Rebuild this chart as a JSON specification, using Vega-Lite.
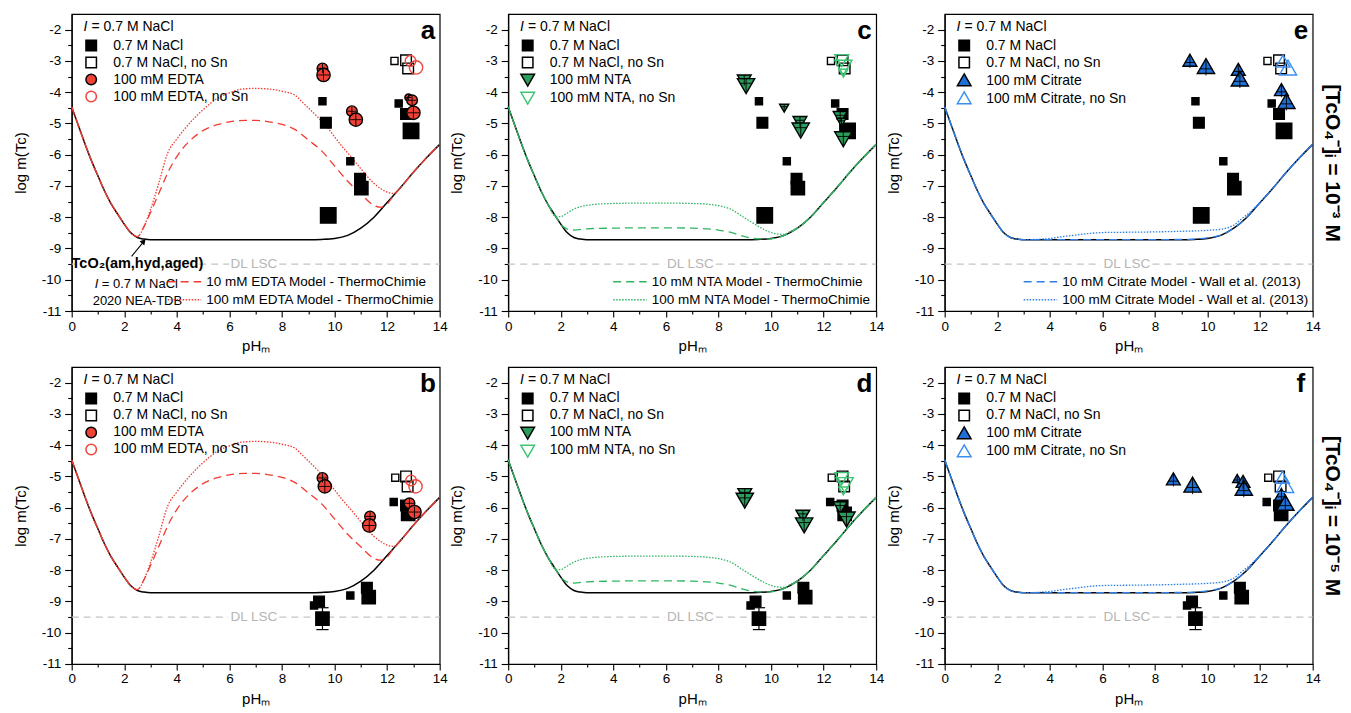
{
"$schema":"https://vega.github.io/schema/vega-lite/v6.json",
"padding":{"left":11.7,"top":13,"right":2,"bottom":4},
"data":{"values":[{"dummy":1}]},
"datasets":{
"pts":[
{"tc":"3","lig":"NaCl","s":"0.7 M NaCl","pH":9.54,"logm":-4.29,"g":1},
{"tc":"3","lig":"NaCl","s":"0.7 M NaCl","pH":9.67,"logm":-4.98,"g":2},
{"tc":"3","lig":"NaCl","s":"0.7 M NaCl","pH":10.6,"logm":-6.21,"g":1},
{"tc":"3","lig":"NaCl","s":"0.7 M NaCl","pH":10.97,"logm":-6.77,"g":2},
{"tc":"3","lig":"NaCl","s":"0.7 M NaCl","pH":11.02,"logm":-7.07,"g":3},
{"tc":"3","lig":"NaCl","s":"0.7 M NaCl","pH":9.76,"logm":-7.94,"g":4},
{"tc":"3","lig":"NaCl","s":"0.7 M NaCl","pH":12.44,"logm":-4.36,"g":1},
{"tc":"3","lig":"NaCl","s":"0.7 M NaCl","pH":12.72,"logm":-4.7,"g":2},
{"tc":"3","lig":"NaCl","s":"0.7 M NaCl","pH":12.91,"logm":-5.24,"g":4},
{"tc":"3","lig":"NaCl","s":"0.7 M NaCl, no Sn","pH":12.28,"logm":-3.0,"g":1},
{"tc":"3","lig":"NaCl","s":"0.7 M NaCl, no Sn","pH":12.72,"logm":-2.98,"g":2},
{"tc":"3","lig":"NaCl","s":"0.7 M NaCl, no Sn","pH":12.8,"logm":-3.24,"g":2},
{"tc":"5","lig":"NaCl","s":"0.7 M NaCl","pH":12.25,"logm":-5.82,"g":1},
{"tc":"5","lig":"NaCl","s":"0.7 M NaCl","pH":12.72,"logm":-5.93,"g":2},
{"tc":"5","lig":"NaCl","s":"0.7 M NaCl","pH":12.8,"logm":-6.2,"g":3},
{"tc":"5","lig":"NaCl","s":"0.7 M NaCl","pH":10.6,"logm":-8.81,"g":1},
{"tc":"5","lig":"NaCl","s":"0.7 M NaCl","pH":11.23,"logm":-8.56,"g":2},
{"tc":"5","lig":"NaCl","s":"0.7 M NaCl","pH":11.3,"logm":-8.86,"g":3},
{"tc":"5","lig":"NaCl","s":"0.7 M NaCl","pH":9.22,"logm":-9.13,"g":1},
{"tc":"5","lig":"NaCl","s":"0.7 M NaCl","pH":9.41,"logm":-9.0,"g":2},
{"tc":"5","lig":"NaCl","s":"0.7 M NaCl","pH":9.54,"logm":-9.55,"g":3},
{"tc":"5","lig":"NaCl","s":"0.7 M NaCl, no Sn","pH":12.31,"logm":-5.04,"g":1},
{"tc":"5","lig":"NaCl","s":"0.7 M NaCl, no Sn","pH":12.72,"logm":-5.0,"g":2},
{"tc":"5","lig":"NaCl","s":"0.7 M NaCl, no Sn","pH":12.78,"logm":-5.32,"g":2},
{"tc":"3","lig":"EDTA","s":"100 mM EDTA","pH":9.54,"logm":-3.24,"g":2},
{"tc":"3","lig":"EDTA","s":"100 mM EDTA","pH":9.58,"logm":-3.45,"g":3},
{"tc":"3","lig":"EDTA","s":"100 mM EDTA","pH":10.66,"logm":-4.61,"g":2},
{"tc":"3","lig":"EDTA","s":"100 mM EDTA","pH":10.81,"logm":-4.88,"g":3},
{"tc":"3","lig":"EDTA","s":"100 mM EDTA","pH":12.81,"logm":-4.17,"g":1},
{"tc":"3","lig":"EDTA","s":"100 mM EDTA","pH":12.95,"logm":-4.26,"g":2},
{"tc":"3","lig":"EDTA","s":"100 mM EDTA","pH":13.0,"logm":-4.66,"g":3},
{"tc":"3","lig":"EDTA","s":"100 mM EDTA, no Sn","pH":12.89,"logm":-3.0,"g":2},
{"tc":"3","lig":"EDTA","s":"100 mM EDTA, no Sn","pH":13.1,"logm":-3.21,"g":3},
{"tc":"5","lig":"EDTA","s":"100 mM EDTA","pH":9.54,"logm":-5.05,"g":2},
{"tc":"5","lig":"EDTA","s":"100 mM EDTA","pH":9.63,"logm":-5.32,"g":3},
{"tc":"5","lig":"EDTA","s":"100 mM EDTA","pH":11.35,"logm":-6.28,"g":2},
{"tc":"5","lig":"EDTA","s":"100 mM EDTA","pH":11.32,"logm":-6.57,"g":3},
{"tc":"5","lig":"EDTA","s":"100 mM EDTA","pH":12.85,"logm":-5.86,"g":2},
{"tc":"5","lig":"EDTA","s":"100 mM EDTA","pH":13.04,"logm":-6.14,"g":3},
{"tc":"5","lig":"EDTA","s":"100 mM EDTA, no Sn","pH":12.91,"logm":-5.13,"g":2},
{"tc":"5","lig":"EDTA","s":"100 mM EDTA, no Sn","pH":13.08,"logm":-5.32,"g":3},
{"tc":"3","lig":"NTA","s":"100 mM NTA","pH":8.98,"logm":-3.62,"g":2},
{"tc":"3","lig":"NTA","s":"100 mM NTA","pH":9.05,"logm":-3.78,"g":3},
{"tc":"3","lig":"NTA","s":"100 mM NTA","pH":10.5,"logm":-4.5,"g":1},
{"tc":"3","lig":"NTA","s":"100 mM NTA","pH":11.1,"logm":-4.95,"g":2},
{"tc":"3","lig":"NTA","s":"100 mM NTA","pH":11.13,"logm":-5.2,"g":3},
{"tc":"3","lig":"NTA","s":"100 mM NTA","pH":12.63,"logm":-4.79,"g":2},
{"tc":"3","lig":"NTA","s":"100 mM NTA","pH":12.68,"logm":-4.95,"g":1},
{"tc":"3","lig":"NTA","s":"100 mM NTA","pH":12.75,"logm":-5.48,"g":3},
{"tc":"3","lig":"NTA","s":"100 mM NTA, no Sn","pH":12.69,"logm":-2.97,"g":2},
{"tc":"3","lig":"NTA","s":"100 mM NTA, no Sn","pH":12.75,"logm":-3.19,"g":3},
{"tc":"3","lig":"NTA","s":"100 mM NTA, no Sn","pH":12.75,"logm":-3.38,"g":1},
{"tc":"5","lig":"NTA","s":"100 mM NTA","pH":9.0,"logm":-5.56,"g":2},
{"tc":"5","lig":"NTA","s":"100 mM NTA","pH":9.0,"logm":-5.75,"g":3},
{"tc":"5","lig":"NTA","s":"100 mM NTA","pH":11.21,"logm":-6.25,"g":2},
{"tc":"5","lig":"NTA","s":"100 mM NTA","pH":11.26,"logm":-6.54,"g":3},
{"tc":"5","lig":"NTA","s":"100 mM NTA","pH":12.63,"logm":-5.98,"g":2},
{"tc":"5","lig":"NTA","s":"100 mM NTA","pH":12.87,"logm":-6.35,"g":3},
{"tc":"5","lig":"NTA","s":"100 mM NTA, no Sn","pH":12.69,"logm":-5.05,"g":2},
{"tc":"5","lig":"NTA","s":"100 mM NTA, no Sn","pH":12.8,"logm":-5.25,"g":3},
{"tc":"5","lig":"NTA","s":"100 mM NTA, no Sn","pH":12.75,"logm":-5.45,"g":1},
{"tc":"3","lig":"Cit","s":"100 mM Citrate","pH":9.33,"logm":-3.0,"g":2},
{"tc":"3","lig":"Cit","s":"100 mM Citrate","pH":9.94,"logm":-3.19,"g":3},
{"tc":"3","lig":"Cit","s":"100 mM Citrate","pH":11.17,"logm":-3.29,"g":2},
{"tc":"3","lig":"Cit","s":"100 mM Citrate","pH":11.23,"logm":-3.59,"g":3},
{"tc":"3","lig":"Cit","s":"100 mM Citrate","pH":12.81,"logm":-3.94,"g":2},
{"tc":"3","lig":"Cit","s":"100 mM Citrate","pH":13.0,"logm":-4.31,"g":3},
{"tc":"3","lig":"Cit","s":"100 mM Citrate, no Sn","pH":12.87,"logm":-3.03,"g":2},
{"tc":"3","lig":"Cit","s":"100 mM Citrate, no Sn","pH":13.06,"logm":-3.24,"g":3},
{"tc":"5","lig":"Cit","s":"100 mM Citrate","pH":8.7,"logm":-5.1,"g":2},
{"tc":"5","lig":"Cit","s":"100 mM Citrate","pH":9.43,"logm":-5.29,"g":3},
{"tc":"5","lig":"Cit","s":"100 mM Citrate","pH":11.13,"logm":-5.08,"g":1},
{"tc":"5","lig":"Cit","s":"100 mM Citrate","pH":11.35,"logm":-5.18,"g":2},
{"tc":"5","lig":"Cit","s":"100 mM Citrate","pH":11.38,"logm":-5.39,"g":3},
{"tc":"5","lig":"Cit","s":"100 mM Citrate","pH":12.81,"logm":-5.6,"g":2},
{"tc":"5","lig":"Cit","s":"100 mM Citrate","pH":12.96,"logm":-5.87,"g":3},
{"tc":"5","lig":"Cit","s":"100 mM Citrate, no Sn","pH":12.85,"logm":-5.05,"g":2},
{"tc":"5","lig":"Cit","s":"100 mM Citrate, no Sn","pH":12.95,"logm":-5.3,"g":3}
],
"sol":[
{"pH":0,"logm":-4.47},{"pH":0.25,"logm":-5.06},{"pH":0.5,"logm":-5.64},{"pH":0.75,"logm":-6.19},{"pH":1,"logm":-6.68},{"pH":1.25,"logm":-7.16},{"pH":1.5,"logm":-7.57},{"pH":1.75,"logm":-7.9},{"pH":2,"logm":-8.22},{"pH":2.25,"logm":-8.5},{"pH":2.5,"logm":-8.65},{"pH":2.75,"logm":-8.7},{"pH":3,"logm":-8.72},{"pH":6,"logm":-8.72},{"pH":9,"logm":-8.72},{"pH":9.5,"logm":-8.71},{"pH":10,"logm":-8.68},{"pH":10.5,"logm":-8.58},{"pH":11,"logm":-8.35},{"pH":11.5,"logm":-8.0},{"pH":12,"logm":-7.53},{"pH":12.5,"logm":-7.06},{"pH":13,"logm":-6.56},{"pH":13.5,"logm":-6.1},{"pH":14,"logm":-5.67}
],
"curves":[
{"lig":"EDTA","m":"10 mM EDTA Model - ThermoChimie","pH":0,"logm":-4.47},
{"lig":"EDTA","m":"10 mM EDTA Model - ThermoChimie","pH":0.25,"logm":-5.06},
{"lig":"EDTA","m":"10 mM EDTA Model - ThermoChimie","pH":0.5,"logm":-5.64},
{"lig":"EDTA","m":"10 mM EDTA Model - ThermoChimie","pH":0.75,"logm":-6.19},
{"lig":"EDTA","m":"10 mM EDTA Model - ThermoChimie","pH":1,"logm":-6.68},
{"lig":"EDTA","m":"10 mM EDTA Model - ThermoChimie","pH":1.25,"logm":-7.16},
{"lig":"EDTA","m":"10 mM EDTA Model - ThermoChimie","pH":1.5,"logm":-7.57},
{"lig":"EDTA","m":"10 mM EDTA Model - ThermoChimie","pH":1.75,"logm":-7.9},
{"lig":"EDTA","m":"10 mM EDTA Model - ThermoChimie","pH":2,"logm":-8.22},
{"lig":"EDTA","m":"10 mM EDTA Model - ThermoChimie","pH":2.25,"logm":-8.5},
{"lig":"EDTA","m":"10 mM EDTA Model - ThermoChimie","pH":2.5,"logm":-8.62},
{"lig":"EDTA","m":"10 mM EDTA Model - ThermoChimie","pH":2.75,"logm":-8.3},
{"lig":"EDTA","m":"10 mM EDTA Model - ThermoChimie","pH":3,"logm":-7.85},
{"lig":"EDTA","m":"10 mM EDTA Model - ThermoChimie","pH":3.39,"logm":-7.09},
{"lig":"EDTA","m":"10 mM EDTA Model - ThermoChimie","pH":3.7,"logm":-6.5},
{"lig":"EDTA","m":"10 mM EDTA Model - ThermoChimie","pH":4.03,"logm":-6.02},
{"lig":"EDTA","m":"10 mM EDTA Model - ThermoChimie","pH":4.5,"logm":-5.55},
{"lig":"EDTA","m":"10 mM EDTA Model - ThermoChimie","pH":4.92,"logm":-5.27},
{"lig":"EDTA","m":"10 mM EDTA Model - ThermoChimie","pH":5.5,"logm":-5.05},
{"lig":"EDTA","m":"10 mM EDTA Model - ThermoChimie","pH":6,"logm":-4.95},
{"lig":"EDTA","m":"10 mM EDTA Model - ThermoChimie","pH":6.6,"logm":-4.9},
{"lig":"EDTA","m":"10 mM EDTA Model - ThermoChimie","pH":7,"logm":-4.9},
{"lig":"EDTA","m":"10 mM EDTA Model - ThermoChimie","pH":7.5,"logm":-4.95},
{"lig":"EDTA","m":"10 mM EDTA Model - ThermoChimie","pH":8,"logm":-5.03},
{"lig":"EDTA","m":"10 mM EDTA Model - ThermoChimie","pH":8.5,"logm":-5.2},
{"lig":"EDTA","m":"10 mM EDTA Model - ThermoChimie","pH":9,"logm":-5.53},
{"lig":"EDTA","m":"10 mM EDTA Model - ThermoChimie","pH":9.5,"logm":-5.87},
{"lig":"EDTA","m":"10 mM EDTA Model - ThermoChimie","pH":10,"logm":-6.36},
{"lig":"EDTA","m":"10 mM EDTA Model - ThermoChimie","pH":10.5,"logm":-6.85},
{"lig":"EDTA","m":"10 mM EDTA Model - ThermoChimie","pH":11,"logm":-7.25},
{"lig":"EDTA","m":"10 mM EDTA Model - ThermoChimie","pH":11.4,"logm":-7.57},
{"lig":"EDTA","m":"10 mM EDTA Model - ThermoChimie","pH":11.75,"logm":-7.68},
{"lig":"EDTA","m":"10 mM EDTA Model - ThermoChimie","pH":12,"logm":-7.58},
{"lig":"EDTA","m":"10 mM EDTA Model - ThermoChimie","pH":12.2,"logm":-7.36},
{"lig":"EDTA","m":"10 mM EDTA Model - ThermoChimie","pH":12.5,"logm":-7.06},
{"lig":"EDTA","m":"10 mM EDTA Model - ThermoChimie","pH":13,"logm":-6.56},
{"lig":"EDTA","m":"10 mM EDTA Model - ThermoChimie","pH":13.5,"logm":-6.1},
{"lig":"EDTA","m":"10 mM EDTA Model - ThermoChimie","pH":14,"logm":-5.67},
{"lig":"EDTA","m":"100 mM EDTA Model - ThermoChimie","pH":0,"logm":-4.47},
{"lig":"EDTA","m":"100 mM EDTA Model - ThermoChimie","pH":0.25,"logm":-5.06},
{"lig":"EDTA","m":"100 mM EDTA Model - ThermoChimie","pH":0.5,"logm":-5.64},
{"lig":"EDTA","m":"100 mM EDTA Model - ThermoChimie","pH":0.75,"logm":-6.19},
{"lig":"EDTA","m":"100 mM EDTA Model - ThermoChimie","pH":1,"logm":-6.68},
{"lig":"EDTA","m":"100 mM EDTA Model - ThermoChimie","pH":1.25,"logm":-7.16},
{"lig":"EDTA","m":"100 mM EDTA Model - ThermoChimie","pH":1.5,"logm":-7.57},
{"lig":"EDTA","m":"100 mM EDTA Model - ThermoChimie","pH":1.75,"logm":-7.9},
{"lig":"EDTA","m":"100 mM EDTA Model - ThermoChimie","pH":2,"logm":-8.22},
{"lig":"EDTA","m":"100 mM EDTA Model - ThermoChimie","pH":2.25,"logm":-8.5},
{"lig":"EDTA","m":"100 mM EDTA Model - ThermoChimie","pH":2.5,"logm":-8.62},
{"lig":"EDTA","m":"100 mM EDTA Model - ThermoChimie","pH":2.75,"logm":-8.3},
{"lig":"EDTA","m":"100 mM EDTA Model - ThermoChimie","pH":3,"logm":-7.75},
{"lig":"EDTA","m":"100 mM EDTA Model - ThermoChimie","pH":3.3,"logm":-6.95},
{"lig":"EDTA","m":"100 mM EDTA Model - ThermoChimie","pH":3.65,"logm":-5.95},
{"lig":"EDTA","m":"100 mM EDTA Model - ThermoChimie","pH":4,"logm":-5.5},
{"lig":"EDTA","m":"100 mM EDTA Model - ThermoChimie","pH":4.5,"logm":-4.98},
{"lig":"EDTA","m":"100 mM EDTA Model - ThermoChimie","pH":5.05,"logm":-4.52},
{"lig":"EDTA","m":"100 mM EDTA Model - ThermoChimie","pH":5.5,"logm":-4.22},
{"lig":"EDTA","m":"100 mM EDTA Model - ThermoChimie","pH":6,"logm":-4.02},
{"lig":"EDTA","m":"100 mM EDTA Model - ThermoChimie","pH":6.5,"logm":-3.9},
{"lig":"EDTA","m":"100 mM EDTA Model - ThermoChimie","pH":7,"logm":-3.88},
{"lig":"EDTA","m":"100 mM EDTA Model - ThermoChimie","pH":7.5,"logm":-3.9},
{"lig":"EDTA","m":"100 mM EDTA Model - ThermoChimie","pH":8,"logm":-3.97},
{"lig":"EDTA","m":"100 mM EDTA Model - ThermoChimie","pH":8.5,"logm":-4.1},
{"lig":"EDTA","m":"100 mM EDTA Model - ThermoChimie","pH":8.75,"logm":-4.3},
{"lig":"EDTA","m":"100 mM EDTA Model - ThermoChimie","pH":9,"logm":-4.5},
{"lig":"EDTA","m":"100 mM EDTA Model - ThermoChimie","pH":9.35,"logm":-4.79},
{"lig":"EDTA","m":"100 mM EDTA Model - ThermoChimie","pH":9.7,"logm":-5.1},
{"lig":"EDTA","m":"100 mM EDTA Model - ThermoChimie","pH":10,"logm":-5.43},
{"lig":"EDTA","m":"100 mM EDTA Model - ThermoChimie","pH":10.3,"logm":-5.75},
{"lig":"EDTA","m":"100 mM EDTA Model - ThermoChimie","pH":10.63,"logm":-6.07},
{"lig":"EDTA","m":"100 mM EDTA Model - ThermoChimie","pH":11,"logm":-6.45},
{"lig":"EDTA","m":"100 mM EDTA Model - ThermoChimie","pH":11.26,"logm":-6.71},
{"lig":"EDTA","m":"100 mM EDTA Model - ThermoChimie","pH":11.5,"logm":-6.92},
{"lig":"EDTA","m":"100 mM EDTA Model - ThermoChimie","pH":11.77,"logm":-7.09},
{"lig":"EDTA","m":"100 mM EDTA Model - ThermoChimie","pH":12,"logm":-7.2},
{"lig":"EDTA","m":"100 mM EDTA Model - ThermoChimie","pH":12.25,"logm":-7.24},
{"lig":"EDTA","m":"100 mM EDTA Model - ThermoChimie","pH":12.45,"logm":-7.11},
{"lig":"EDTA","m":"100 mM EDTA Model - ThermoChimie","pH":13,"logm":-6.56},
{"lig":"EDTA","m":"100 mM EDTA Model - ThermoChimie","pH":13.5,"logm":-6.1},
{"lig":"EDTA","m":"100 mM EDTA Model - ThermoChimie","pH":14,"logm":-5.67},
{"lig":"NTA","m":"10 mM NTA Model - ThermoChimie","pH":0,"logm":-4.47},
{"lig":"NTA","m":"10 mM NTA Model - ThermoChimie","pH":0.25,"logm":-5.06},
{"lig":"NTA","m":"10 mM NTA Model - ThermoChimie","pH":0.5,"logm":-5.64},
{"lig":"NTA","m":"10 mM NTA Model - ThermoChimie","pH":0.75,"logm":-6.19},
{"lig":"NTA","m":"10 mM NTA Model - ThermoChimie","pH":1,"logm":-6.68},
{"lig":"NTA","m":"10 mM NTA Model - ThermoChimie","pH":1.25,"logm":-7.16},
{"lig":"NTA","m":"10 mM NTA Model - ThermoChimie","pH":1.5,"logm":-7.57},
{"lig":"NTA","m":"10 mM NTA Model - ThermoChimie","pH":1.75,"logm":-7.9},
{"lig":"NTA","m":"10 mM NTA Model - ThermoChimie","pH":2,"logm":-8.22},
{"lig":"NTA","m":"10 mM NTA Model - ThermoChimie","pH":2.25,"logm":-8.38},
{"lig":"NTA","m":"10 mM NTA Model - ThermoChimie","pH":2.5,"logm":-8.41},
{"lig":"NTA","m":"10 mM NTA Model - ThermoChimie","pH":3,"logm":-8.37},
{"lig":"NTA","m":"10 mM NTA Model - ThermoChimie","pH":4,"logm":-8.35},
{"lig":"NTA","m":"10 mM NTA Model - ThermoChimie","pH":5,"logm":-8.34},
{"lig":"NTA","m":"10 mM NTA Model - ThermoChimie","pH":6,"logm":-8.34},
{"lig":"NTA","m":"10 mM NTA Model - ThermoChimie","pH":7,"logm":-8.35},
{"lig":"NTA","m":"10 mM NTA Model - ThermoChimie","pH":7.5,"logm":-8.37},
{"lig":"NTA","m":"10 mM NTA Model - ThermoChimie","pH":8,"logm":-8.41},
{"lig":"NTA","m":"10 mM NTA Model - ThermoChimie","pH":8.44,"logm":-8.48},
{"lig":"NTA","m":"10 mM NTA Model - ThermoChimie","pH":9,"logm":-8.62},
{"lig":"NTA","m":"10 mM NTA Model - ThermoChimie","pH":9.5,"logm":-8.69},
{"lig":"NTA","m":"10 mM NTA Model - ThermoChimie","pH":10,"logm":-8.69},
{"lig":"NTA","m":"10 mM NTA Model - ThermoChimie","pH":10.5,"logm":-8.58},
{"lig":"NTA","m":"10 mM NTA Model - ThermoChimie","pH":11,"logm":-8.35},
{"lig":"NTA","m":"10 mM NTA Model - ThermoChimie","pH":11.5,"logm":-8.0},
{"lig":"NTA","m":"10 mM NTA Model - ThermoChimie","pH":12,"logm":-7.53},
{"lig":"NTA","m":"10 mM NTA Model - ThermoChimie","pH":12.5,"logm":-7.06},
{"lig":"NTA","m":"10 mM NTA Model - ThermoChimie","pH":13,"logm":-6.56},
{"lig":"NTA","m":"10 mM NTA Model - ThermoChimie","pH":13.5,"logm":-6.1},
{"lig":"NTA","m":"10 mM NTA Model - ThermoChimie","pH":14,"logm":-5.67},
{"lig":"NTA","m":"100 mM NTA Model - ThermoChimie","pH":0,"logm":-4.47},
{"lig":"NTA","m":"100 mM NTA Model - ThermoChimie","pH":0.25,"logm":-5.06},
{"lig":"NTA","m":"100 mM NTA Model - ThermoChimie","pH":0.5,"logm":-5.64},
{"lig":"NTA","m":"100 mM NTA Model - ThermoChimie","pH":0.75,"logm":-6.19},
{"lig":"NTA","m":"100 mM NTA Model - ThermoChimie","pH":1,"logm":-6.68},
{"lig":"NTA","m":"100 mM NTA Model - ThermoChimie","pH":1.25,"logm":-7.16},
{"lig":"NTA","m":"100 mM NTA Model - ThermoChimie","pH":1.5,"logm":-7.57},
{"lig":"NTA","m":"100 mM NTA Model - ThermoChimie","pH":1.8,"logm":-7.97},
{"lig":"NTA","m":"100 mM NTA Model - ThermoChimie","pH":2,"logm":-7.98},
{"lig":"NTA","m":"100 mM NTA Model - ThermoChimie","pH":2.2,"logm":-7.89},
{"lig":"NTA","m":"100 mM NTA Model - ThermoChimie","pH":2.5,"logm":-7.74},
{"lig":"NTA","m":"100 mM NTA Model - ThermoChimie","pH":3,"logm":-7.62},
{"lig":"NTA","m":"100 mM NTA Model - ThermoChimie","pH":4,"logm":-7.56},
{"lig":"NTA","m":"100 mM NTA Model - ThermoChimie","pH":5,"logm":-7.55},
{"lig":"NTA","m":"100 mM NTA Model - ThermoChimie","pH":6,"logm":-7.55},
{"lig":"NTA","m":"100 mM NTA Model - ThermoChimie","pH":7,"logm":-7.56},
{"lig":"NTA","m":"100 mM NTA Model - ThermoChimie","pH":7.5,"logm":-7.58},
{"lig":"NTA","m":"100 mM NTA Model - ThermoChimie","pH":8,"logm":-7.63},
{"lig":"NTA","m":"100 mM NTA Model - ThermoChimie","pH":8.44,"logm":-7.73},
{"lig":"NTA","m":"100 mM NTA Model - ThermoChimie","pH":8.95,"logm":-8.0},
{"lig":"NTA","m":"100 mM NTA Model - ThermoChimie","pH":9.46,"logm":-8.26},
{"lig":"NTA","m":"100 mM NTA Model - ThermoChimie","pH":9.97,"logm":-8.48},
{"lig":"NTA","m":"100 mM NTA Model - ThermoChimie","pH":10.47,"logm":-8.55},
{"lig":"NTA","m":"100 mM NTA Model - ThermoChimie","pH":10.79,"logm":-8.43},
{"lig":"NTA","m":"100 mM NTA Model - ThermoChimie","pH":11,"logm":-8.35},
{"lig":"NTA","m":"100 mM NTA Model - ThermoChimie","pH":11.5,"logm":-8.0},
{"lig":"NTA","m":"100 mM NTA Model - ThermoChimie","pH":12,"logm":-7.53},
{"lig":"NTA","m":"100 mM NTA Model - ThermoChimie","pH":12.5,"logm":-7.06},
{"lig":"NTA","m":"100 mM NTA Model - ThermoChimie","pH":13,"logm":-6.56},
{"lig":"NTA","m":"100 mM NTA Model - ThermoChimie","pH":13.5,"logm":-6.1},
{"lig":"NTA","m":"100 mM NTA Model - ThermoChimie","pH":14,"logm":-5.67},
{"lig":"Cit","m":"10 mM Citrate Model - Wall et al. (2013)","pH":0,"logm":-4.47},
{"lig":"Cit","m":"10 mM Citrate Model - Wall et al. (2013)","pH":0.25,"logm":-5.06},
{"lig":"Cit","m":"10 mM Citrate Model - Wall et al. (2013)","pH":0.5,"logm":-5.64},
{"lig":"Cit","m":"10 mM Citrate Model - Wall et al. (2013)","pH":0.75,"logm":-6.19},
{"lig":"Cit","m":"10 mM Citrate Model - Wall et al. (2013)","pH":1,"logm":-6.68},
{"lig":"Cit","m":"10 mM Citrate Model - Wall et al. (2013)","pH":1.25,"logm":-7.16},
{"lig":"Cit","m":"10 mM Citrate Model - Wall et al. (2013)","pH":1.5,"logm":-7.57},
{"lig":"Cit","m":"10 mM Citrate Model - Wall et al. (2013)","pH":1.75,"logm":-7.9},
{"lig":"Cit","m":"10 mM Citrate Model - Wall et al. (2013)","pH":2,"logm":-8.22},
{"lig":"Cit","m":"10 mM Citrate Model - Wall et al. (2013)","pH":2.25,"logm":-8.5},
{"lig":"Cit","m":"10 mM Citrate Model - Wall et al. (2013)","pH":2.5,"logm":-8.65},
{"lig":"Cit","m":"10 mM Citrate Model - Wall et al. (2013)","pH":2.75,"logm":-8.7},
{"lig":"Cit","m":"10 mM Citrate Model - Wall et al. (2013)","pH":3,"logm":-8.72},
{"lig":"Cit","m":"10 mM Citrate Model - Wall et al. (2013)","pH":5,"logm":-8.72},
{"lig":"Cit","m":"10 mM Citrate Model - Wall et al. (2013)","pH":7,"logm":-8.72},
{"lig":"Cit","m":"10 mM Citrate Model - Wall et al. (2013)","pH":9,"logm":-8.71},
{"lig":"Cit","m":"10 mM Citrate Model - Wall et al. (2013)","pH":9.5,"logm":-8.7},
{"lig":"Cit","m":"10 mM Citrate Model - Wall et al. (2013)","pH":10,"logm":-8.66},
{"lig":"Cit","m":"10 mM Citrate Model - Wall et al. (2013)","pH":10.5,"logm":-8.57},
{"lig":"Cit","m":"10 mM Citrate Model - Wall et al. (2013)","pH":11,"logm":-8.35},
{"lig":"Cit","m":"10 mM Citrate Model - Wall et al. (2013)","pH":11.5,"logm":-8.0},
{"lig":"Cit","m":"10 mM Citrate Model - Wall et al. (2013)","pH":12,"logm":-7.53},
{"lig":"Cit","m":"10 mM Citrate Model - Wall et al. (2013)","pH":12.5,"logm":-7.06},
{"lig":"Cit","m":"10 mM Citrate Model - Wall et al. (2013)","pH":13,"logm":-6.56},
{"lig":"Cit","m":"10 mM Citrate Model - Wall et al. (2013)","pH":13.5,"logm":-6.1},
{"lig":"Cit","m":"10 mM Citrate Model - Wall et al. (2013)","pH":14,"logm":-5.67},
{"lig":"Cit","m":"100 mM Citrate Model - Wall et al. (2013)","pH":0,"logm":-4.47},
{"lig":"Cit","m":"100 mM Citrate Model - Wall et al. (2013)","pH":0.25,"logm":-5.06},
{"lig":"Cit","m":"100 mM Citrate Model - Wall et al. (2013)","pH":0.5,"logm":-5.64},
{"lig":"Cit","m":"100 mM Citrate Model - Wall et al. (2013)","pH":0.75,"logm":-6.19},
{"lig":"Cit","m":"100 mM Citrate Model - Wall et al. (2013)","pH":1,"logm":-6.68},
{"lig":"Cit","m":"100 mM Citrate Model - Wall et al. (2013)","pH":1.25,"logm":-7.16},
{"lig":"Cit","m":"100 mM Citrate Model - Wall et al. (2013)","pH":1.5,"logm":-7.57},
{"lig":"Cit","m":"100 mM Citrate Model - Wall et al. (2013)","pH":1.75,"logm":-7.9},
{"lig":"Cit","m":"100 mM Citrate Model - Wall et al. (2013)","pH":2,"logm":-8.22},
{"lig":"Cit","m":"100 mM Citrate Model - Wall et al. (2013)","pH":2.25,"logm":-8.5},
{"lig":"Cit","m":"100 mM Citrate Model - Wall et al. (2013)","pH":2.5,"logm":-8.65},
{"lig":"Cit","m":"100 mM Citrate Model - Wall et al. (2013)","pH":2.75,"logm":-8.7},
{"lig":"Cit","m":"100 mM Citrate Model - Wall et al. (2013)","pH":3,"logm":-8.72},
{"lig":"Cit","m":"100 mM Citrate Model - Wall et al. (2013)","pH":3.5,"logm":-8.71},
{"lig":"Cit","m":"100 mM Citrate Model - Wall et al. (2013)","pH":4,"logm":-8.68},
{"lig":"Cit","m":"100 mM Citrate Model - Wall et al. (2013)","pH":4.5,"logm":-8.62},
{"lig":"Cit","m":"100 mM Citrate Model - Wall et al. (2013)","pH":5,"logm":-8.57},
{"lig":"Cit","m":"100 mM Citrate Model - Wall et al. (2013)","pH":5.5,"logm":-8.52},
{"lig":"Cit","m":"100 mM Citrate Model - Wall et al. (2013)","pH":6,"logm":-8.49},
{"lig":"Cit","m":"100 mM Citrate Model - Wall et al. (2013)","pH":7,"logm":-8.48},
{"lig":"Cit","m":"100 mM Citrate Model - Wall et al. (2013)","pH":8,"logm":-8.47},
{"lig":"Cit","m":"100 mM Citrate Model - Wall et al. (2013)","pH":9,"logm":-8.45},
{"lig":"Cit","m":"100 mM Citrate Model - Wall et al. (2013)","pH":10,"logm":-8.42},
{"lig":"Cit","m":"100 mM Citrate Model - Wall et al. (2013)","pH":10.6,"logm":-8.37},
{"lig":"Cit","m":"100 mM Citrate Model - Wall et al. (2013)","pH":11,"logm":-8.25},
{"lig":"Cit","m":"100 mM Citrate Model - Wall et al. (2013)","pH":11.3,"logm":-8.05},
{"lig":"Cit","m":"100 mM Citrate Model - Wall et al. (2013)","pH":11.6,"logm":-7.85},
{"lig":"Cit","m":"100 mM Citrate Model - Wall et al. (2013)","pH":12,"logm":-7.53},
{"lig":"Cit","m":"100 mM Citrate Model - Wall et al. (2013)","pH":12.5,"logm":-7.06},
{"lig":"Cit","m":"100 mM Citrate Model - Wall et al. (2013)","pH":13,"logm":-6.56},
{"lig":"Cit","m":"100 mM Citrate Model - Wall et al. (2013)","pH":13.5,"logm":-6.1},
{"lig":"Cit","m":"100 mM Citrate Model - Wall et al. (2013)","pH":14,"logm":-5.67}
],
"dl":[
{"p":"a","pH":0,"pH2":0.12,"logm":-9.5},
{"p":"a","pH":4.85,"pH2":6.0,"logm":-9.5},
{"p":"a","pH":7.9,"pH2":14,"logm":-9.5},
{"p":"o","pH":0,"pH2":5.95,"logm":-9.5},
{"p":"o","pH":7.9,"pH2":14,"logm":-9.5}
],
"err":[{"pH":9.54,"lo":-9.9,"hi":-9.2}]
},
"config":{
"font":"Liberation Sans",
"view":{"stroke":"black","strokeWidth":1.2},
"axis":{"domainColor":"black","domainWidth":1.2,"tickColor":"black","tickWidth":1.1,"labelColor":"black","titleColor":"black","labelFontSize":13.5,"titleFontSize":15,"titleFontWeight":"normal","grid":false,"labelFlush":false,"labelOverlap":false},
"legend":{"labelFontSize":14,"labelColor":"black","padding":0,"labelLimit":400},
"text":{"color":"black"}
},
"columns":3,
"spacing":{"row":56,"column":68.5},
"bounds":"flush",
"resolve":{"scale":{"x":"independent","y":"independent","shape":"independent","fill":"independent","stroke":"independent","strokeDash":"independent","size":"independent"},"legend":{"shape":"independent","fill":"independent","stroke":"independent","strokeDash":"independent","size":"independent"}},
"concat":[
{
"width":368,"height":297,
"encoding":{
"x":{"field":"pH","type":"quantitative","scale":{"domain":[0,14],"nice":false,"zero":false},"axis":{"title":"pHₘ","values":[0,1,2,3,4,5,6,7,8,9,10,11,12,13,14],"labelExpr":"datum.value % 2 === 0 ? datum.label : ''","tickSize":{"condition":{"test":"datum.value % 2 !== 0","value":3},"value":6},"labelPadding":2,"titlePadding":6}},
"y":{"field":"logm","type":"quantitative","scale":{"domain":[-11,-1.5],"nice":false,"zero":false},"axis":{"title":"log m(Tc)","values":[-11,-10.5,-10,-9.5,-9,-8.5,-8,-7.5,-7,-6.5,-6,-5.5,-5,-4.5,-4,-3.5,-3,-2.5,-2],"labelExpr":"datum.value % 1 === 0 ? ('' + datum.value) : ''","tickSize":{"condition":{"test":"datum.value % 1 !== 0","value":4},"value":7},"labelPadding":4,"titlePadding":13}}
},
"layer":[
{"data":{"name":"dl"},"transform":[{"filter":"datum.p === 'a'"}],"mark":{"type":"rule","color":"#c4c4c4","strokeDash":[7,5],"strokeWidth":1.3},"encoding":{"x2":{"field":"pH2"}}},
{"data":{"values":[{"pH":6.93,"logm":-9.5}]},"mark":{"type":"text","text":"DL LSC","color":"#b5b5b5","fontSize":13.5}},
{"mark":{"type":"rule","color":"black","strokeDash":[3,2.5],"strokeWidth":1.2},"encoding":{"x":{"datum":6.9},"x2":{"datum":14},"y":{"datum":-3}}},
{"data":{"name":"sol"},"mark":{"type":"line","color":"black","strokeWidth":1.5,"interpolate":"monotone"}},
{"data":{"name":"curves"},"transform":[{"filter":"datum.lig === 'EDTA'"}],"mark":{"type":"line","color":"#F03C32","strokeWidth":1.3,"interpolate":"monotone"},"encoding":{"strokeDash":{"field":"m","type":"nominal","scale":{"domain":["10 mM EDTA Model - ThermoChimie","100 mM EDTA Model - ThermoChimie"],"range":[[8,5],[1.5,1.5]]},"legend":{"title":null,"orient":"bottom-right","offset":4,"symbolType":"M-3.2,0L3.2,0","symbolSize":110,"symbolStrokeWidth":1.5,"labelFontSize":13.5,"labelOffset":15,"rowPadding":3,"padding":0}}}},
{"data":{"name":"pts"},"transform":[{"filter":"datum.tc === '3' && (datum.lig === 'NaCl' || datum.lig === 'EDTA')"}],"mark":{"type":"point","opacity":1,"strokeWidth":1.4},"encoding":{
"shape":{"field":"s","type":"nominal","scale":{"domain":["0.7 M NaCl","0.7 M NaCl, no Sn","100 mM EDTA","100 mM EDTA, no Sn"],"range":["square","square","circle","circle"]},"legend":{"title":null,"orient":"none","legendX":12.5,"legendY":24.5,"symbolSize":110,"symbolStrokeWidth":1.5,"labelFontSize":14,"labelOffset":15,"rowPadding":-1,"padding":0}},
"fill":{"field":"s","type":"nominal","scale":{"domain":["0.7 M NaCl","0.7 M NaCl, no Sn","100 mM EDTA","100 mM EDTA, no Sn"],"range":["#000000","rgba(255,255,255,0)","#EF4136","rgba(255,255,255,0)"]}},
"stroke":{"field":"s","type":"nominal","scale":{"domain":["0.7 M NaCl","0.7 M NaCl, no Sn","100 mM EDTA","100 mM EDTA, no Sn"],"range":["#000000","#000000","#000000","#F2453B"]}},
"size":{"field":"g","type":"quantitative","scale":{"domain":[1,4],"range":[50,240]},"legend":null}}},
{"data":{"name":"pts"},"transform":[{"filter":"datum.tc === '3' && datum.s === '100 mM EDTA'"}],"mark":{"type":"point","shape":"M-0.85,0L0.85,0M0,-0.85L0,0.85","filled":false,"color":"black","strokeWidth":0.9,"opacity":1},"encoding":{"size":{"field":"g","type":"quantitative","scale":{"domain":[1,4],"range":[50,240]},"legend":null}}},
{"data":{"values":[{"pH":13.55,"logm":-2.05}]},"mark":{"type":"text","text":"a","fontSize":26,"fontWeight":"bold"}},
{"data":{"values":[{"pH":0.45,"logm":-1.9}]},"mark":{"type":"text","text":"I","fontStyle":"italic","fontSize":14,"align":"left"}},
{"data":{"values":[{"pH":0.45,"logm":-1.9}]},"mark":{"type":"text","text":"= 0.7 M NaCl","fontSize":14,"align":"left","dx":8}},
{"data":{"values":[{"pH":2.5,"logm":-9.5}]},"mark":{"type":"text","text":"TcO₂(am,hyd,aged)","fontSize":14.5,"fontWeight":"bold"}},
{"data":{"values":[{"pH":2.28,"logm":-9.25,"pH2":2.7,"logm2":-8.82}]},"mark":{"type":"rule","color":"black","strokeWidth":1.1},"encoding":{"x2":{"field":"pH2"},"y2":{"field":"logm2"}}},
{"data":{"values":[{"pH":2.74,"logm":-8.77}]},"mark":{"type":"point","shape":"triangle-up","filled":true,"color":"black","size":40,"angle":41,"opacity":1}},
{"data":{"values":[{"pH":0.88,"logm":-10.13}]},"mark":{"type":"text","text":"I","fontStyle":"italic","fontSize":13,"align":"left"}},
{"data":{"values":[{"pH":0.88,"logm":-10.13}]},"mark":{"type":"text","text":"= 0.7 M NaCl","fontSize":13,"align":"left","dx":7}},
{"data":{"values":[{"pH":2.5,"logm":-10.67}]},"mark":{"type":"text","text":"2020 NEA-TDB","fontSize":13}}
]
},
{
"width":368,"height":297,
"encoding":{
"x":{"field":"pH","type":"quantitative","scale":{"domain":[0,14],"nice":false,"zero":false},"axis":{"title":"pHₘ","values":[0,1,2,3,4,5,6,7,8,9,10,11,12,13,14],"labelExpr":"datum.value % 2 === 0 ? datum.label : ''","tickSize":{"condition":{"test":"datum.value % 2 !== 0","value":3},"value":6},"labelPadding":2,"titlePadding":6}},
"y":{"field":"logm","type":"quantitative","scale":{"domain":[-11,-1.5],"nice":false,"zero":false},"axis":{"title":"log m(Tc)","values":[-11,-10.5,-10,-9.5,-9,-8.5,-8,-7.5,-7,-6.5,-6,-5.5,-5,-4.5,-4,-3.5,-3,-2.5,-2],"labelExpr":"datum.value % 1 === 0 ? ('' + datum.value) : ''","tickSize":{"condition":{"test":"datum.value % 1 !== 0","value":4},"value":7},"labelPadding":4,"titlePadding":13}}
},
"layer":[
{"data":{"name":"dl"},"transform":[{"filter":"datum.p === 'o'"}],"mark":{"type":"rule","color":"#c4c4c4","strokeDash":[7,5],"strokeWidth":1.3},"encoding":{"x2":{"field":"pH2"}}},
{"data":{"values":[{"pH":6.93,"logm":-9.5}]},"mark":{"type":"text","text":"DL LSC","color":"#b5b5b5","fontSize":13.5}},
{"mark":{"type":"rule","color":"black","strokeDash":[3,2.5],"strokeWidth":1.2},"encoding":{"x":{"datum":6.6},"x2":{"datum":14},"y":{"datum":-3}}},
{"data":{"name":"sol"},"mark":{"type":"line","color":"black","strokeWidth":1.5,"interpolate":"monotone"}},
{"data":{"name":"curves"},"transform":[{"filter":"datum.lig === 'NTA'"}],"mark":{"type":"line","color":"#2FB562","strokeWidth":1.3,"interpolate":"monotone"},"encoding":{"strokeDash":{"field":"m","type":"nominal","scale":{"domain":["10 mM NTA Model - ThermoChimie","100 mM NTA Model - ThermoChimie"],"range":[[8,5],[1.5,1.5]]},"legend":{"title":null,"orient":"bottom-right","offset":4,"symbolType":"M-3.2,0L3.2,0","symbolSize":110,"symbolStrokeWidth":1.5,"labelFontSize":13.5,"labelOffset":15,"rowPadding":3,"padding":0}}}},
{"data":{"name":"pts"},"transform":[{"filter":"datum.tc === '3' && (datum.lig === 'NaCl' || datum.lig === 'NTA')"}],"mark":{"type":"point","opacity":1,"strokeWidth":1.4},"encoding":{
"shape":{"field":"s","type":"nominal","scale":{"domain":["0.7 M NaCl","0.7 M NaCl, no Sn","100 mM NTA","100 mM NTA, no Sn"],"range":["square","square","M0,1.25L1.3,-1L-1.3,-1Z","M0,1.25L1.3,-1L-1.3,-1Z"]},"legend":{"title":null,"orient":"none","legendX":12.5,"legendY":24.5,"symbolSize":110,"symbolStrokeWidth":1.5,"labelFontSize":14,"labelOffset":15,"rowPadding":-1,"padding":0}},
"fill":{"field":"s","type":"nominal","scale":{"domain":["0.7 M NaCl","0.7 M NaCl, no Sn","100 mM NTA","100 mM NTA, no Sn"],"range":["#000000","rgba(255,255,255,0)","#2A9D5C","rgba(255,255,255,0)"]}},
"stroke":{"field":"s","type":"nominal","scale":{"domain":["0.7 M NaCl","0.7 M NaCl, no Sn","100 mM NTA","100 mM NTA, no Sn"],"range":["#000000","#000000","#000000","#3CC673"]}},
"size":{"field":"g","type":"quantitative","scale":{"domain":[1,4],"range":[50,240]},"legend":null}}},
{"data":{"name":"pts"},"transform":[{"filter":"datum.tc === '3' && datum.s === '100 mM NTA'"}],"mark":{"type":"point","shape":"M-0.95,-0.3L0.95,-0.3M0,-1L0,1","filled":false,"color":"black","strokeWidth":0.9,"opacity":1},"encoding":{"size":{"field":"g","type":"quantitative","scale":{"domain":[1,4],"range":[50,240]},"legend":null}}},
{"data":{"values":[{"pH":13.55,"logm":-2.05}]},"mark":{"type":"text","text":"c","fontSize":26,"fontWeight":"bold"}},
{"data":{"values":[{"pH":0.45,"logm":-1.9}]},"mark":{"type":"text","text":"I","fontStyle":"italic","fontSize":14,"align":"left"}},
{"data":{"values":[{"pH":0.45,"logm":-1.9}]},"mark":{"type":"text","text":"= 0.7 M NaCl","fontSize":14,"align":"left","dx":8}}
]
},
{
"width":368,"height":297,
"resolve":{"axis":{"y":"independent"}},
"layer":[
{
"encoding":{
"x":{"field":"pH","type":"quantitative","scale":{"domain":[0,14],"nice":false,"zero":false},"axis":{"title":"pHₘ","values":[0,1,2,3,4,5,6,7,8,9,10,11,12,13,14],"labelExpr":"datum.value % 2 === 0 ? datum.label : ''","tickSize":{"condition":{"test":"datum.value % 2 !== 0","value":3},"value":6},"labelPadding":2,"titlePadding":6}},
"y":{"field":"logm","type":"quantitative","scale":{"domain":[-11,-1.5],"nice":false,"zero":false},"axis":{"title":"log m(Tc)","values":[-11,-10.5,-10,-9.5,-9,-8.5,-8,-7.5,-7,-6.5,-6,-5.5,-5,-4.5,-4,-3.5,-3,-2.5,-2],"labelExpr":"datum.value % 1 === 0 ? ('' + datum.value) : ''","tickSize":{"condition":{"test":"datum.value % 1 !== 0","value":4},"value":7},"labelPadding":4,"titlePadding":13}}
},
"layer":[
{"data":{"name":"dl"},"transform":[{"filter":"datum.p === 'o'"}],"mark":{"type":"rule","color":"#c4c4c4","strokeDash":[7,5],"strokeWidth":1.3},"encoding":{"x2":{"field":"pH2"}}},
{"data":{"values":[{"pH":6.93,"logm":-9.5}]},"mark":{"type":"text","text":"DL LSC","color":"#b5b5b5","fontSize":13.5}},
{"mark":{"type":"rule","color":"black","strokeDash":[3,2.5],"strokeWidth":1.2},"encoding":{"x":{"datum":7.05},"x2":{"datum":14},"y":{"datum":-3}}},
{"data":{"name":"sol"},"mark":{"type":"line","color":"black","strokeWidth":1.5,"interpolate":"monotone"}},
{"data":{"name":"curves"},"transform":[{"filter":"datum.lig === 'Cit'"}],"mark":{"type":"line","color":"#2C7EE8","strokeWidth":1.3,"interpolate":"monotone"},"encoding":{"strokeDash":{"field":"m","type":"nominal","scale":{"domain":["10 mM Citrate Model - Wall et al. (2013)","100 mM Citrate Model - Wall et al. (2013)"],"range":[[8,5],[1.5,1.5]]},"legend":{"title":null,"orient":"bottom-right","offset":4,"symbolType":"M-3.2,0L3.2,0","symbolSize":110,"symbolStrokeWidth":1.5,"labelFontSize":13.5,"labelOffset":15,"rowPadding":3,"padding":0}}}},
{"data":{"name":"pts"},"transform":[{"filter":"datum.tc === '3' && (datum.lig === 'NaCl' || datum.lig === 'Cit')"}],"mark":{"type":"point","opacity":1,"strokeWidth":1.4},"encoding":{
"shape":{"field":"s","type":"nominal","scale":{"domain":["0.7 M NaCl","0.7 M NaCl, no Sn","100 mM Citrate","100 mM Citrate, no Sn"],"range":["square","square","M0,-1.25L1.3,1L-1.3,1Z","M0,-1.25L1.3,1L-1.3,1Z"]},"legend":{"title":null,"orient":"none","legendX":12.5,"legendY":24.5,"symbolSize":110,"symbolStrokeWidth":1.5,"labelFontSize":14,"labelOffset":15,"rowPadding":-1,"padding":0}},
"fill":{"field":"s","type":"nominal","scale":{"domain":["0.7 M NaCl","0.7 M NaCl, no Sn","100 mM Citrate","100 mM Citrate, no Sn"],"range":["#000000","rgba(255,255,255,0)","#1F6FD6","rgba(255,255,255,0)"]}},
"stroke":{"field":"s","type":"nominal","scale":{"domain":["0.7 M NaCl","0.7 M NaCl, no Sn","100 mM Citrate","100 mM Citrate, no Sn"],"range":["#000000","#000000","#000000","#3B8EF2"]}},
"size":{"field":"g","type":"quantitative","scale":{"domain":[1,4],"range":[50,240]},"legend":null}}},
{"data":{"name":"pts"},"transform":[{"filter":"datum.tc === '3' && datum.s === '100 mM Citrate'"}],"mark":{"type":"point","shape":"M-0.95,0.3L0.95,0.3M0,-1L0,1.3","filled":false,"color":"black","strokeWidth":0.9,"opacity":1},"encoding":{"size":{"field":"g","type":"quantitative","scale":{"domain":[1,4],"range":[50,240]},"legend":null}}},
{"data":{"values":[{"pH":13.55,"logm":-2.05}]},"mark":{"type":"text","text":"e","fontSize":26,"fontWeight":"bold"}},
{"data":{"values":[{"pH":0.45,"logm":-1.9}]},"mark":{"type":"text","text":"I","fontStyle":"italic","fontSize":14,"align":"left"}},
{"data":{"values":[{"pH":0.45,"logm":-1.9}]},"mark":{"type":"text","text":"= 0.7 M NaCl","fontSize":14,"align":"left","dx":8}}
]
},
{"mark":{"type":"rule","opacity":0},"encoding":{"y":{"datum":-6,"type":"quantitative","axis":{"orient":"right","title":"[TcO₄⁻]ᵢ = 10⁻³ M","labels":false,"ticks":false,"domain":false,"titleFontSize":21,"titleFontWeight":"bold","titlePadding":9}}}}
]
},
{
"width":368,"height":297,
"encoding":{
"x":{"field":"pH","type":"quantitative","scale":{"domain":[0,14],"nice":false,"zero":false},"axis":{"title":"pHₘ","values":[0,1,2,3,4,5,6,7,8,9,10,11,12,13,14],"labelExpr":"datum.value % 2 === 0 ? datum.label : ''","tickSize":{"condition":{"test":"datum.value % 2 !== 0","value":3},"value":6},"labelPadding":2,"titlePadding":6}},
"y":{"field":"logm","type":"quantitative","scale":{"domain":[-11,-1.5],"nice":false,"zero":false},"axis":{"title":"log m(Tc)","values":[-11,-10.5,-10,-9.5,-9,-8.5,-8,-7.5,-7,-6.5,-6,-5.5,-5,-4.5,-4,-3.5,-3,-2.5,-2],"labelExpr":"datum.value % 1 === 0 ? ('' + datum.value) : ''","tickSize":{"condition":{"test":"datum.value % 1 !== 0","value":4},"value":7},"labelPadding":4,"titlePadding":13}}
},
"layer":[
{"data":{"name":"dl"},"transform":[{"filter":"datum.p === 'o'"}],"mark":{"type":"rule","color":"#c4c4c4","strokeDash":[7,5],"strokeWidth":1.3},"encoding":{"x2":{"field":"pH2"}}},
{"data":{"values":[{"pH":6.93,"logm":-9.5}]},"mark":{"type":"text","text":"DL LSC","color":"#b5b5b5","fontSize":13.5}},
{"mark":{"type":"rule","color":"black","strokeDash":[3,2.5],"strokeWidth":1.2},"encoding":{"x":{"datum":0},"x2":{"datum":14},"y":{"datum":-5}}},
{"data":{"name":"sol"},"mark":{"type":"line","color":"black","strokeWidth":1.5,"interpolate":"monotone"}},
{"data":{"name":"curves"},"transform":[{"filter":"datum.lig === 'EDTA'"}],"mark":{"type":"line","color":"#F03C32","strokeWidth":1.3,"interpolate":"monotone"},"encoding":{"strokeDash":{"field":"m","type":"nominal","scale":{"domain":["10 mM EDTA Model - ThermoChimie","100 mM EDTA Model - ThermoChimie"],"range":[[8,5],[1.5,1.5]]},"legend":null}}},
{"data":{"name":"err"},"mark":{"type":"rule","color":"black","strokeWidth":1.2},"encoding":{"y":{"field":"lo","type":"quantitative"},"y2":{"field":"hi"}}},
{"data":{"name":"err"},"mark":{"type":"point","shape":"stroke","size":150,"color":"black","strokeWidth":1.2,"opacity":1},"encoding":{"y":{"field":"lo","type":"quantitative"}}},
{"data":{"name":"err"},"mark":{"type":"point","shape":"stroke","size":150,"color":"black","strokeWidth":1.2,"opacity":1},"encoding":{"y":{"field":"hi","type":"quantitative"}}},
{"data":{"name":"pts"},"transform":[{"filter":"datum.tc === '5' && (datum.lig === 'NaCl' || datum.lig === 'EDTA')"}],"mark":{"type":"point","opacity":1,"strokeWidth":1.4},"encoding":{
"shape":{"field":"s","type":"nominal","scale":{"domain":["0.7 M NaCl","0.7 M NaCl, no Sn","100 mM EDTA","100 mM EDTA, no Sn"],"range":["square","square","circle","circle"]},"legend":{"title":null,"orient":"none","legendX":12.5,"legendY":24.5,"symbolSize":110,"symbolStrokeWidth":1.5,"labelFontSize":14,"labelOffset":15,"rowPadding":-1,"padding":0}},
"fill":{"field":"s","type":"nominal","scale":{"domain":["0.7 M NaCl","0.7 M NaCl, no Sn","100 mM EDTA","100 mM EDTA, no Sn"],"range":["#000000","rgba(255,255,255,0)","#EF4136","rgba(255,255,255,0)"]}},
"stroke":{"field":"s","type":"nominal","scale":{"domain":["0.7 M NaCl","0.7 M NaCl, no Sn","100 mM EDTA","100 mM EDTA, no Sn"],"range":["#000000","#000000","#000000","#F2453B"]}},
"size":{"field":"g","type":"quantitative","scale":{"domain":[1,4],"range":[50,240]},"legend":null}}},
{"data":{"name":"pts"},"transform":[{"filter":"datum.tc === '5' && datum.s === '100 mM EDTA'"}],"mark":{"type":"point","shape":"M-0.85,0L0.85,0M0,-0.85L0,0.85","filled":false,"color":"black","strokeWidth":0.9,"opacity":1},"encoding":{"size":{"field":"g","type":"quantitative","scale":{"domain":[1,4],"range":[50,240]},"legend":null}}},
{"data":{"values":[{"pH":13.55,"logm":-2.05}]},"mark":{"type":"text","text":"b","fontSize":26,"fontWeight":"bold"}},
{"data":{"values":[{"pH":0.45,"logm":-1.9}]},"mark":{"type":"text","text":"I","fontStyle":"italic","fontSize":14,"align":"left"}},
{"data":{"values":[{"pH":0.45,"logm":-1.9}]},"mark":{"type":"text","text":"= 0.7 M NaCl","fontSize":14,"align":"left","dx":8}}
]
},
{
"width":368,"height":297,
"encoding":{
"x":{"field":"pH","type":"quantitative","scale":{"domain":[0,14],"nice":false,"zero":false},"axis":{"title":"pHₘ","values":[0,1,2,3,4,5,6,7,8,9,10,11,12,13,14],"labelExpr":"datum.value % 2 === 0 ? datum.label : ''","tickSize":{"condition":{"test":"datum.value % 2 !== 0","value":3},"value":6},"labelPadding":2,"titlePadding":6}},
"y":{"field":"logm","type":"quantitative","scale":{"domain":[-11,-1.5],"nice":false,"zero":false},"axis":{"title":"log m(Tc)","values":[-11,-10.5,-10,-9.5,-9,-8.5,-8,-7.5,-7,-6.5,-6,-5.5,-5,-4.5,-4,-3.5,-3,-2.5,-2],"labelExpr":"datum.value % 1 === 0 ? ('' + datum.value) : ''","tickSize":{"condition":{"test":"datum.value % 1 !== 0","value":4},"value":7},"labelPadding":4,"titlePadding":13}}
},
"layer":[
{"data":{"name":"dl"},"transform":[{"filter":"datum.p === 'o'"}],"mark":{"type":"rule","color":"#c4c4c4","strokeDash":[7,5],"strokeWidth":1.3},"encoding":{"x2":{"field":"pH2"}}},
{"data":{"values":[{"pH":6.93,"logm":-9.5}]},"mark":{"type":"text","text":"DL LSC","color":"#b5b5b5","fontSize":13.5}},
{"mark":{"type":"rule","color":"black","strokeDash":[3,2.5],"strokeWidth":1.2},"encoding":{"x":{"datum":0},"x2":{"datum":14},"y":{"datum":-5}}},
{"data":{"name":"sol"},"mark":{"type":"line","color":"black","strokeWidth":1.5,"interpolate":"monotone"}},
{"data":{"name":"curves"},"transform":[{"filter":"datum.lig === 'NTA'"}],"mark":{"type":"line","color":"#2FB562","strokeWidth":1.3,"interpolate":"monotone"},"encoding":{"strokeDash":{"field":"m","type":"nominal","scale":{"domain":["10 mM NTA Model - ThermoChimie","100 mM NTA Model - ThermoChimie"],"range":[[8,5],[1.5,1.5]]},"legend":null}}},
{"data":{"name":"err"},"mark":{"type":"rule","color":"black","strokeWidth":1.2},"encoding":{"y":{"field":"lo","type":"quantitative"},"y2":{"field":"hi"}}},
{"data":{"name":"err"},"mark":{"type":"point","shape":"stroke","size":150,"color":"black","strokeWidth":1.2,"opacity":1},"encoding":{"y":{"field":"lo","type":"quantitative"}}},
{"data":{"name":"err"},"mark":{"type":"point","shape":"stroke","size":150,"color":"black","strokeWidth":1.2,"opacity":1},"encoding":{"y":{"field":"hi","type":"quantitative"}}},
{"data":{"name":"pts"},"transform":[{"filter":"datum.tc === '5' && (datum.lig === 'NaCl' || datum.lig === 'NTA')"}],"mark":{"type":"point","opacity":1,"strokeWidth":1.4},"encoding":{
"shape":{"field":"s","type":"nominal","scale":{"domain":["0.7 M NaCl","0.7 M NaCl, no Sn","100 mM NTA","100 mM NTA, no Sn"],"range":["square","square","M0,1.25L1.3,-1L-1.3,-1Z","M0,1.25L1.3,-1L-1.3,-1Z"]},"legend":{"title":null,"orient":"none","legendX":12.5,"legendY":24.5,"symbolSize":110,"symbolStrokeWidth":1.5,"labelFontSize":14,"labelOffset":15,"rowPadding":-1,"padding":0}},
"fill":{"field":"s","type":"nominal","scale":{"domain":["0.7 M NaCl","0.7 M NaCl, no Sn","100 mM NTA","100 mM NTA, no Sn"],"range":["#000000","rgba(255,255,255,0)","#2A9D5C","rgba(255,255,255,0)"]}},
"stroke":{"field":"s","type":"nominal","scale":{"domain":["0.7 M NaCl","0.7 M NaCl, no Sn","100 mM NTA","100 mM NTA, no Sn"],"range":["#000000","#000000","#000000","#3CC673"]}},
"size":{"field":"g","type":"quantitative","scale":{"domain":[1,4],"range":[50,240]},"legend":null}}},
{"data":{"name":"pts"},"transform":[{"filter":"datum.tc === '5' && datum.s === '100 mM NTA'"}],"mark":{"type":"point","shape":"M-0.95,-0.3L0.95,-0.3M0,-1L0,1","filled":false,"color":"black","strokeWidth":0.9,"opacity":1},"encoding":{"size":{"field":"g","type":"quantitative","scale":{"domain":[1,4],"range":[50,240]},"legend":null}}},
{"data":{"values":[{"pH":13.55,"logm":-2.05}]},"mark":{"type":"text","text":"d","fontSize":26,"fontWeight":"bold"}},
{"data":{"values":[{"pH":0.45,"logm":-1.9}]},"mark":{"type":"text","text":"I","fontStyle":"italic","fontSize":14,"align":"left"}},
{"data":{"values":[{"pH":0.45,"logm":-1.9}]},"mark":{"type":"text","text":"= 0.7 M NaCl","fontSize":14,"align":"left","dx":8}}
]
},
{
"width":368,"height":297,
"resolve":{"axis":{"y":"independent"}},
"layer":[
{
"encoding":{
"x":{"field":"pH","type":"quantitative","scale":{"domain":[0,14],"nice":false,"zero":false},"axis":{"title":"pHₘ","values":[0,1,2,3,4,5,6,7,8,9,10,11,12,13,14],"labelExpr":"datum.value % 2 === 0 ? datum.label : ''","tickSize":{"condition":{"test":"datum.value % 2 !== 0","value":3},"value":6},"labelPadding":2,"titlePadding":6}},
"y":{"field":"logm","type":"quantitative","scale":{"domain":[-11,-1.5],"nice":false,"zero":false},"axis":{"title":"log m(Tc)","values":[-11,-10.5,-10,-9.5,-9,-8.5,-8,-7.5,-7,-6.5,-6,-5.5,-5,-4.5,-4,-3.5,-3,-2.5,-2],"labelExpr":"datum.value % 1 === 0 ? ('' + datum.value) : ''","tickSize":{"condition":{"test":"datum.value % 1 !== 0","value":4},"value":7},"labelPadding":4,"titlePadding":13}}
},
"layer":[
{"data":{"name":"dl"},"transform":[{"filter":"datum.p === 'o'"}],"mark":{"type":"rule","color":"#c4c4c4","strokeDash":[7,5],"strokeWidth":1.3},"encoding":{"x2":{"field":"pH2"}}},
{"data":{"values":[{"pH":6.93,"logm":-9.5}]},"mark":{"type":"text","text":"DL LSC","color":"#b5b5b5","fontSize":13.5}},
{"mark":{"type":"rule","color":"black","strokeDash":[3,2.5],"strokeWidth":1.2},"encoding":{"x":{"datum":0},"x2":{"datum":14},"y":{"datum":-5}}},
{"data":{"name":"sol"},"mark":{"type":"line","color":"black","strokeWidth":1.5,"interpolate":"monotone"}},
{"data":{"name":"curves"},"transform":[{"filter":"datum.lig === 'Cit'"}],"mark":{"type":"line","color":"#2C7EE8","strokeWidth":1.3,"interpolate":"monotone"},"encoding":{"strokeDash":{"field":"m","type":"nominal","scale":{"domain":["10 mM Citrate Model - Wall et al. (2013)","100 mM Citrate Model - Wall et al. (2013)"],"range":[[8,5],[1.5,1.5]]},"legend":null}}},
{"data":{"name":"err"},"mark":{"type":"rule","color":"black","strokeWidth":1.2},"encoding":{"y":{"field":"lo","type":"quantitative"},"y2":{"field":"hi"}}},
{"data":{"name":"err"},"mark":{"type":"point","shape":"stroke","size":150,"color":"black","strokeWidth":1.2,"opacity":1},"encoding":{"y":{"field":"lo","type":"quantitative"}}},
{"data":{"name":"err"},"mark":{"type":"point","shape":"stroke","size":150,"color":"black","strokeWidth":1.2,"opacity":1},"encoding":{"y":{"field":"hi","type":"quantitative"}}},
{"data":{"name":"pts"},"transform":[{"filter":"datum.tc === '5' && (datum.lig === 'NaCl' || datum.lig === 'Cit')"}],"mark":{"type":"point","opacity":1,"strokeWidth":1.4},"encoding":{
"shape":{"field":"s","type":"nominal","scale":{"domain":["0.7 M NaCl","0.7 M NaCl, no Sn","100 mM Citrate","100 mM Citrate, no Sn"],"range":["square","square","M0,-1.25L1.3,1L-1.3,1Z","M0,-1.25L1.3,1L-1.3,1Z"]},"legend":{"title":null,"orient":"none","legendX":12.5,"legendY":24.5,"symbolSize":110,"symbolStrokeWidth":1.5,"labelFontSize":14,"labelOffset":15,"rowPadding":-1,"padding":0}},
"fill":{"field":"s","type":"nominal","scale":{"domain":["0.7 M NaCl","0.7 M NaCl, no Sn","100 mM Citrate","100 mM Citrate, no Sn"],"range":["#000000","rgba(255,255,255,0)","#1F6FD6","rgba(255,255,255,0)"]}},
"stroke":{"field":"s","type":"nominal","scale":{"domain":["0.7 M NaCl","0.7 M NaCl, no Sn","100 mM Citrate","100 mM Citrate, no Sn"],"range":["#000000","#000000","#000000","#3B8EF2"]}},
"size":{"field":"g","type":"quantitative","scale":{"domain":[1,4],"range":[50,240]},"legend":null}}},
{"data":{"name":"pts"},"transform":[{"filter":"datum.tc === '5' && datum.s === '100 mM Citrate'"}],"mark":{"type":"point","shape":"M-0.95,0.3L0.95,0.3M0,-1L0,1.3","filled":false,"color":"black","strokeWidth":0.9,"opacity":1},"encoding":{"size":{"field":"g","type":"quantitative","scale":{"domain":[1,4],"range":[50,240]},"legend":null}}},
{"data":{"values":[{"pH":13.55,"logm":-2.05}]},"mark":{"type":"text","text":"f","fontSize":26,"fontWeight":"bold"}},
{"data":{"values":[{"pH":0.45,"logm":-1.9}]},"mark":{"type":"text","text":"I","fontStyle":"italic","fontSize":14,"align":"left"}},
{"data":{"values":[{"pH":0.45,"logm":-1.9}]},"mark":{"type":"text","text":"= 0.7 M NaCl","fontSize":14,"align":"left","dx":8}}
]
},
{"mark":{"type":"rule","opacity":0},"encoding":{"y":{"datum":-6,"type":"quantitative","axis":{"orient":"right","title":"[TcO₄⁻]ᵢ = 10⁻⁵ M","labels":false,"ticks":false,"domain":false,"titleFontSize":21,"titleFontWeight":"bold","titlePadding":9}}}}
]
}
]
}
